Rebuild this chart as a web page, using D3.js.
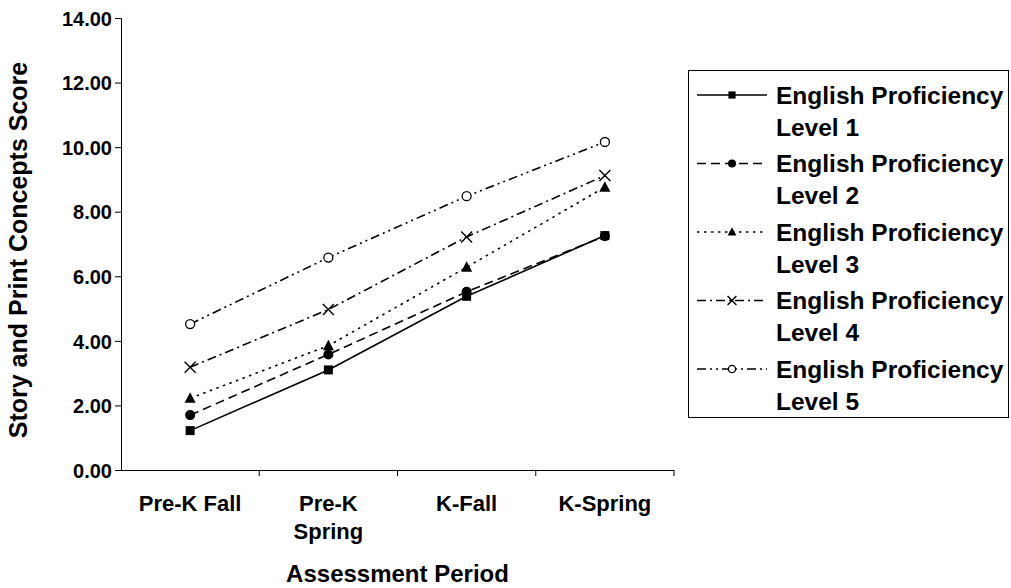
<!DOCTYPE html>
<html>
<head>
<meta charset="utf-8">
<script src="https://cdn.jsdelivr.net/npm/d3@7"></script>
<style>
  html, body { margin: 0; padding: 0; background: #fff; }
  svg text { font-family: "Liberation Sans", Arial, sans-serif; font-weight: bold; fill: #000; }
</style>
</head>
<body>
<svg id="chart" width="1011" height="588"></svg>
<script>
// Assessment periods (x categories); labels may wrap onto two lines
const periods = ["Pre-K Fall", "Pre-K Spring", "K-Fall", "K-Spring"];
const periodLines = [["Pre-K Fall"], ["Pre-K", "Spring"], ["K-Fall"], ["K-Spring"]];

// Mean Story and Print Concepts score per English proficiency level
const level1 = [1.22, 3.10, 5.38, 7.26];
const level2 = [1.70, 3.58, 5.52, 7.24];
const level3 = [2.22, 3.85, 6.28, 8.76];
const level4 = [3.18, 4.97, 7.22, 9.12];
const level5 = [4.52, 6.58, 8.48, 10.16];

const seriesNames = ["English Proficiency Level 1", "English Proficiency Level 2",
  "English Proficiency Level 3", "English Proficiency Level 4", "English Proficiency Level 5"];
const yTicks = [0, 2, 4, 6, 8, 10, 12, 14];

const series = [level1, level2, level3, level4, level5].map((values, i) => ({
  name: seriesNames[i], values
}));

const dashes = [null, "9,5", "2.5,4.5", "9,4,2,4", "9,4,2,4,2,4"];
const markers = ["square", "circle", "triangle", "cross", "ring"];
const FONT = '"Liberation Sans", Arial, sans-serif';

const svg = d3.select("#chart");
const plot = { left: 121, right: 674, top: 18, bottom: 470 };

const x = d3.scaleBand().domain(periods).range([plot.left, plot.right]).padding(0);
const y = d3.scaleLinear().domain([0, 14]).range([plot.bottom, plot.top]);

// Y axis
const yAxis = svg.append("g")
  .attr("transform", `translate(${plot.left},0)`)
  .call(d3.axisLeft(y).tickValues(yTicks).tickFormat(d3.format(".2f")).tickSize(6).tickPadding(3));
yAxis.select(".domain").attr("stroke", "#000").attr("stroke-width", 1);
yAxis.selectAll(".tick line").attr("stroke", "#000");
yAxis.selectAll("text").style("font-size", "20px").style("font-family", FONT)
  .style("font-weight", "bold").attr("fill", "#000").attr("dy", "0.36em");

// X axis with ticks between categories
const xAxis = svg.append("g").attr("transform", `translate(0,${plot.bottom})`);
xAxis.append("line").attr("x1", plot.left - 6).attr("x2", plot.right)
  .attr("y1", 0.5).attr("y2", 0.5).attr("stroke", "#000");
const boundaries = periods.map(p => x(p) + x.bandwidth());
xAxis.selectAll("line.tick").data(boundaries).join("line").attr("class", "tick")
  .attr("x1", d => d).attr("x2", d => d).attr("y1", 0).attr("y2", 6).attr("stroke", "#000");
const xl = xAxis.selectAll("text.cat").data(periods).join("text").attr("class", "cat")
  .attr("x", d => x(d) + x.bandwidth() / 2)
  .attr("text-anchor", "middle").style("font-size", "22px");
xl.each(function(d, i) {
  d3.select(this).selectAll("tspan").data(periodLines[i]).join("tspan")
    .attr("x", x(d) + x.bandwidth() / 2)
    .attr("y", (t, j) => 41 + j * 28)
    .text(t => t);
});

// Axis titles
svg.append("text").attr("x", (plot.left + plot.right) / 2).attr("y", 582)
  .attr("text-anchor", "middle").style("font-size", "24px").text("Assessment Period");
svg.append("text").attr("transform", `translate(27,${(plot.top + plot.bottom) / 2 + 6}) rotate(-90)`)
  .attr("text-anchor", "middle").style("font-size", "25px").text("Story and Print Concepts Score");

// Marker drawing
function drawMarker(g, type, cx, cy, s) {
  const k = s || 1;
  if (type === "square") {
    g.append("rect").attr("x", cx - 4.5 * k).attr("y", cy - 4.5 * k).attr("width", 9 * k).attr("height", 9 * k).attr("fill", "#000");
  } else if (type === "circle") {
    g.append("circle").attr("cx", cx).attr("cy", cy).attr("r", 5 * k).attr("fill", "#000");
  } else if (type === "triangle") {
    g.append("path").attr("d", `M${cx},${cy - 6 * k}L${cx + 5.5 * k},${cy + 4.5 * k}L${cx - 5.5 * k},${cy + 4.5 * k}Z`).attr("fill", "#000");
  } else if (type === "cross") {
    const r = 5.5 * k;
    g.append("path").attr("d", `M${cx - r},${cy - r}L${cx + r},${cy + r}M${cx - r},${cy + r}L${cx + r},${cy - r}`)
      .attr("stroke", "#000").attr("stroke-width", 1.4).attr("fill", "none");
  } else if (type === "ring") {
    g.append("circle").attr("cx", cx).attr("cy", cy).attr("r", 4.5 * k).attr("fill", "#fff")
      .attr("stroke", "#000").attr("stroke-width", 1.3);
  }
}

const line = d3.line().x((d, i) => x(periods[i]) + x.bandwidth() / 2).y(d => y(d));

// Series lines and markers
series.forEach((s, i) => {
  const g = svg.append("g");
  g.append("path").attr("d", line(s.values)).attr("fill", "none").attr("stroke", "#000")
    .attr("stroke-width", 1.6).attr("stroke-dasharray", dashes[i]);
  s.values.forEach((v, j) => {
    drawMarker(g, markers[i], x(periods[j]) + x.bandwidth() / 2, y(v));
  });
});

// Legend
const legend = svg.append("g");
legend.append("rect").attr("x", 688.5).attr("y", 70.5).attr("width", 320).attr("height", 347)
  .attr("fill", "#fff").attr("stroke", "#000").attr("stroke-width", 1);
series.forEach((s, i) => {
  const cy = 95 + i * 68.5;
  const g = legend.append("g");
  g.append("line").attr("x1", 697).attr("x2", 767).attr("y1", cy).attr("y2", cy)
    .attr("stroke", "#000").attr("stroke-width", 1.6).attr("stroke-dasharray", dashes[i]);
  drawMarker(g, markers[i], 732, cy, 0.8);
  const words = s.name.split(" ");
  const t = g.append("text").attr("x", 776).style("font-size", "24.5px");
  t.append("tspan").attr("x", 776).attr("y", cy + 8.5).text(words.slice(0, 2).join(" "));
  t.append("tspan").attr("x", 776).attr("y", cy + 40.5).text(words.slice(2).join(" "));
});
</script>
</body>
</html>
